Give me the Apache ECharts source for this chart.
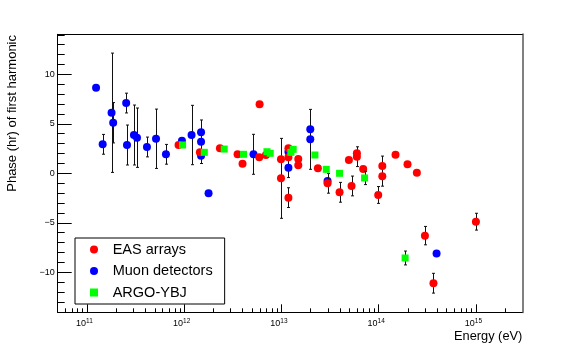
<!DOCTYPE html>
<html>
<head>
<meta charset="utf-8">
<script src="https://cdn.jsdelivr.net/npm/echarts@6/dist/echarts.min.js"></script>
<style>
html, body { margin: 0; padding: 0; background: #fff; }
#chart { width: 581px; height: 347px; }
</style>
</head>
<body>
<div id="chart"></div>
<script>
var font = 'Liberation Sans, Arial, sans-serif';

// energies in eV, phase in hours, err = 0 means no error bar
var muon_energy = [1.24e11, 1.45e11, 1.79e11, 1.86e11, 2.53e11, 2.58e11, 3.04e11, 3.27e11, 4.14e11, 5.13e11, 6.49e11, 9.48e11,
	1.19e12, 1.49e12, 1.49e12, 1.49e12, 1.78e12, 5.16e12, 1.18e13, 1.18e13, 1.98e13, 1.98e13, 2.98e13, 3.94e14];
var muon_phase = [8.65, 2.93, 6.12, 5.11, 7.1, 2.86, 3.87, 3.6, 2.66, 3.49, 1.92, 3.29,
	3.87, 4.14, 3.19, 1.78, -2.02, 1.92, 2.18, 0.57, 4.44, 3.43, -0.78, -8.1];
var muon_err = [0, 1.0, 6.03, 2.04, 1.0, 2.02, 3.03, 3.0, 1.0, 3.0, 1.0, 0,
	3.0, 0, 2.2, 0, 0, 2.02, 0, 1.0, 0, 3.03, 0, 0];

var eas_energy = [8.75e11, 1.45e12, 2.33e12, 3.54e12, 3.98e12, 5.91e12, 5.96e12, 6.93e12, 9.89e12, 9.89e12,
	1.18e13, 1.18e13, 1.18e13, 1.49e13, 1.49e13, 2.37e13, 2.98e13, 3.96e13, 4.94e13, 5.26e13, 5.97e13, 5.97e13,
	6.93e13, 9.89e13, 1.09e14, 1.09e14, 1.49e14, 1.98e14, 2.47e14, 2.99e14, 3.66e14, 1.0e15];
var eas_phase = [2.86, 2.12, 2.52, 1.92, 0.97, 1.62, 6.97, 1.85, 1.41, -0.51,
	2.53, 1.62, -2.46, 1.44, 0.81, 0.5, -1.01, -1.92, 1.34, -1.28, 2.02, 1.68,
	0.43, -2.19, 0.74, -0.30, 1.88, 0.91, 0.06, -6.30, -11.11, -4.89];
var eas_err = [0, 0, 0, 0, 0, 0, 0, 0, 0, 4.04,
	0, 0, 1.0, 0, 0, 0, 1.0, 1.0, 0, 1.0, 0, 1.0,
	0, 0.85, 1.0, 1.0, 0, 0, 0, 0.93, 1.0, 0.85];

var argo_energy = [9.62e11, 1.61e12, 2.58e12, 4.07e12, 7.1e12, 7.67e12, 1.25e13, 1.32e13, 2.21e13, 2.89e13, 3.96e13, 7.16e13, 1.87e14];
var argo_phase = [2.86, 2.12, 2.45, 1.92, 2.18, 2.02, 2.12, 2.42, 1.85, 0.4, 0.0, -0.47, -8.56];
var argo_err = [0, 0, 0, 0, 0, 0, 0, 0, 0, 0, 0, 0.67, 0.7];

var x_min = 5e10, x_max = 3e15;
var x_decades = [11, 12, 13, 14, 15];
var y_major = [-10, -5, 0, 5, 10];
var y_min = -14.05, y_max = 14.05;

var lmin = Math.log10(x_min), lmax = Math.log10(x_max);

var x_minor = [];
for (var d = 10; d <= 15; d++) {
	for (var k = 2; k <= 9; k++) {
		var v = Math.log10(k) + d;
		if (v > lmin && v < lmax) x_minor.push(v);
	}
}
var y_minor = [];
for (var i = -14; i <= 14; i++) y_minor.push(i);

function points(energy, phase) {
	return energy.map(function (e, i) { return [Math.log10(e), phase[i]]; });
}
function bars(energy, phase, err) {
	var out = [];
	energy.forEach(function (e, i) {
		if (err[i] > 0) out.push([Math.log10(e), phase[i], err[i]]);
	});
	return out;
}

function renderErr(params, api) {
	var x = api.value(0), y = api.value(1), e = api.value(2);
	var hi = api.coord([x, y + e]);
	var lo = api.coord([x, y - e]);
	var px = Math.round(hi[0]) + 0.5;
	var st = { stroke: '#111', lineWidth: 1 };
	return {
		type: 'group',
		children: [
			{ type: 'line', shape: { x1: px, y1: hi[1], x2: px, y2: lo[1] }, style: st },
			{ type: 'line', shape: { x1: px - 1.5, y1: hi[1], x2: px + 1.5, y2: hi[1] }, style: st },
			{ type: 'line', shape: { x1: px - 1.5, y1: lo[1], x2: px + 1.5, y2: lo[1] }, style: st }
		]
	};
}

var chart = echarts.init(document.getElementById('chart'));

var option = {
	backgroundColor: '#fff',
	animation: false,
	textStyle: { fontFamily: font },
	grid: { left: 57.7, right: 58.7, top: 34.3, bottom: 34.7, containLabel: false },
	xAxis: [
		{
			type: 'value', min: lmin, max: lmax, position: 'bottom',
			axisLine: { show: true, onZero: false, lineStyle: { color: '#000', width: 1 } },
			axisTick: { show: true, inside: true, length: 8, customValues: x_decades, lineStyle: { color: '#000' } },
			axisLabel: {
				show: true, customValues: x_decades, margin: 5, color: '#000',
				padding: [0, 5, 0, 0],
				formatter: function (v) { return '{b|10}{s|' + Math.round(v) + '}'; },
				rich: {
					b: { fontSize: 9, fontFamily: font, color: '#000' },
					s: { fontSize: 6.5, fontFamily: font, color: '#000', padding: [0, 0, 5, 0] }
				}
			},
			splitLine: { show: false }
		},
		{
			type: 'value', min: lmin, max: lmax, position: 'bottom',
			axisLine: { show: false, onZero: false },
			axisTick: { show: true, inside: true, length: 4, customValues: x_minor, lineStyle: { color: '#000' } },
			axisLabel: { show: false },
			splitLine: { show: false }
		},
		{
			type: 'value', min: lmin, max: lmax, position: 'top',
			axisLine: { show: true, onZero: false, lineStyle: { color: '#000', width: 1 } },
			axisTick: { show: false }, axisLabel: { show: false }, splitLine: { show: false }
		}
	],
	yAxis: [
		{
			type: 'value', min: y_min, max: y_max, position: 'left',
			axisLine: { show: true, onZero: false, lineStyle: { color: '#000', width: 1 } },
			axisTick: { show: true, inside: true, length: 14, customValues: y_major, lineStyle: { color: '#000' } },
			axisLabel: {
				show: true, customValues: y_major, margin: 3, color: '#000', fontSize: 9, fontFamily: font,
				formatter: function (v) { return v < 0 ? '\u2212' + Math.abs(v) : String(v); }
			},
			splitLine: { show: false }
		},
		{
			type: 'value', min: y_min, max: y_max, position: 'left',
			axisLine: { show: false, onZero: false },
			axisTick: { show: true, inside: true, length: 7, customValues: y_minor, lineStyle: { color: '#000' } },
			axisLabel: { show: false },
			splitLine: { show: false }
		},
		{
			type: 'value', min: y_min, max: y_max, position: 'right',
			axisLine: { show: true, onZero: false, lineStyle: { color: '#808080', width: 2 } },
			axisTick: { show: false }, axisLabel: { show: false }, splitLine: { show: false }
		}
	],
	legend: {
		orient: 'vertical', left: 75, top: 238,
		padding: [4, 12, 4, 15], itemGap: 6.5,
		itemWidth: 8, itemHeight: 8,
		borderColor: '#000', borderWidth: 1, borderRadius: 0,
		backgroundColor: '#fff',
		textStyle: { fontFamily: font, fontSize: 14.5, color: '#000', lineHeight: 14, padding: [0, 0, 0, 9.7] },
		data: [
			{ name: 'EAS arrays', icon: 'circle' },
			{ name: 'Muon detectors', icon: 'circle' },
			{ name: 'ARGO-YBJ', icon: 'rect' }
		],
		selectedMode: false
	},
	series: [
		{ name: 'muon_err', type: 'custom', renderItem: renderErr, data: bars(muon_energy, muon_phase, muon_err), z: 2 },
		{ name: 'Muon detectors', type: 'scatter', symbol: 'circle', symbolSize: 8, itemStyle: { color: '#0000ff', opacity: 1 },
			data: points(muon_energy, muon_phase), z: 3 },
		{ name: 'eas_err', type: 'custom', renderItem: renderErr, data: bars(eas_energy, eas_phase, eas_err), z: 4 },
		{ name: 'EAS arrays', type: 'scatter', symbol: 'circle', symbolSize: 8, itemStyle: { color: '#ff0000', opacity: 1 },
			data: points(eas_energy, eas_phase), z: 5 },
		{ name: 'argo_err', type: 'custom', renderItem: renderErr, data: bars(argo_energy, argo_phase, argo_err), z: 6 },
		{ name: 'ARGO-YBJ', type: 'scatter', symbol: 'rect', symbolSize: 7, itemStyle: { color: '#00ff00', opacity: 1 },
			data: points(argo_energy, argo_phase), z: 7 }
	],
	graphic: [
		{
			type: 'text', x: 522.3, y: 336,
			style: { text: 'Energy (eV)', font: '12.8px ' + font, fill: '#000', align: 'right', verticalAlign: 'middle' }
		},
		{
			type: 'text', x: 12.5, y: 35, rotation: Math.PI / 2,
			style: { text: 'Phase (hr) of first harmonic', font: '13px ' + font, fill: '#000', align: 'right', verticalAlign: 'middle' }
		}
	]
};

chart.setOption(option);
</script>
</body>
</html>
